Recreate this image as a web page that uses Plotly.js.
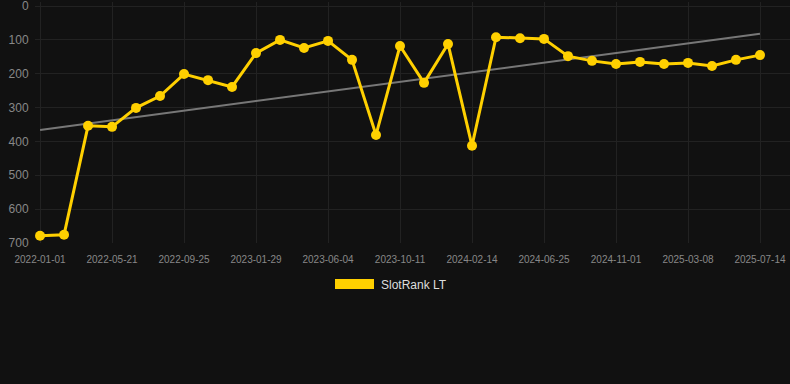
<!DOCTYPE html>
<html>
<head>
<meta charset="utf-8">
<script src="https://cdn.plot.ly/plotly-3.0.1.min.js"></script>
<style>
  html, body { margin: 0; padding: 0; background: #111111; }
  #chart { width: 790px; height: 384px; }
</style>
</head>
<body>
<div id="chart"></div>
<script>
// Dates (category axis, evenly spaced; every third label shown)
const dates = [
  "2022-01-01","2022-02-16","2022-04-04","2022-05-21","2022-06-30","2022-08-12",
  "2022-09-25","2022-11-05","2022-12-17","2023-01-29","2023-03-13","2023-04-23",
  "2023-06-04","2023-07-17","2023-08-29","2023-10-11","2023-11-22","2024-01-03",
  "2024-02-14","2024-03-28","2024-05-11","2024-06-25","2024-08-07","2024-09-19",
  "2024-11-01","2024-12-13","2025-01-24","2025-03-08","2025-04-19","2025-05-31",
  "2025-07-14"
];
// SlotRank LT values
const rankLT = [
  679, 676, 354, 357, 301, 266, 201, 219, 239, 139,
  100, 124, 103, 159, 381, 118, 227, 112, 413, 92,
  95, 97, 148, 162, 171, 165, 171, 168, 177, 159,
  145
];
// Trend line endpoints
const trendDates = ["2022-01-01", "2025-07-14"];
const trendValues = [366, 82];
// Tick labels shown on the x axis
const tickDates = ["2022-01-01","2022-05-21","2022-09-25","2023-01-29","2023-06-04",
  "2023-10-11","2024-02-14","2024-06-25","2024-11-01","2025-03-08","2025-07-14"];
const yTicks = [0, 100, 200, 300, 400, 500, 600, 700];
const yTickText = ["0", "100", "200", "300", "400", "500", "600", "700"];
const seriesName = "SlotRank LT";

const gold = "#FFD000";

const traces = [
  {
    x: trendDates, y: trendValues, type: "scatter", mode: "lines",
    line: { color: "#777777", width: 2 }, showlegend: false, hoverinfo: "skip"
  },
  {
    x: dates, y: rankLT, type: "scatter", mode: "lines+markers", name: seriesName,
    line: { color: gold, width: 3 },
    marker: { color: gold, size: 10 },
    showlegend: false
  }
];

const W = 790, H = 384, L = 35, R = 0, T = 2, B = 141;
const pw = W - L - R, ph = H - T - B;
function px2paperX(px) { return (px - L) / pw; }
function px2paperY(py) { return (H - B - py) / ph; }

const layout = {
  width: W, height: H,
  paper_bgcolor: "#111111",
  plot_bgcolor: "#111111",
  margin: { l: L, r: R, t: T, b: B, pad: 0 },
  font: { family: "Liberation Sans, Arial, sans-serif", color: "#888888" },
  showlegend: false,
  xaxis: {
    type: "category",
    categoryorder: "array", categoryarray: dates,
    range: [-0.21, 31.25],
    tickmode: "array", tickvals: tickDates, ticktext: tickDates,
    tickfont: { size: 10, color: "#888888" },
    gridcolor: "#222222", gridwidth: 1,
    showline: false, zeroline: false, ticks: "", ticklabelstandoff: 9,
    ticklabeloverflow: "allow"
  },
  yaxis: {
    range: [700.3, -12],
    tickmode: "array", tickvals: yTicks, ticktext: yTickText,
    tickfont: { size: 12, color: "#888888" },
    gridcolor: "#222222", gridwidth: 1,
    zeroline: false, showline: false, ticks: "outside", ticklen: 3, tickcolor: "rgba(0,0,0,0)",
    ticklabeloverflow: "allow"
  },
  shapes: [
    {
      type: "rect", xref: "paper", yref: "paper",
      x0: px2paperX(335), x1: px2paperX(374),
      y0: px2paperY(289), y1: px2paperY(279),
      fillcolor: gold, line: { width: 0 }
    }
  ],
  annotations: [
    {
      text: seriesName, xref: "paper", yref: "paper",
      x: px2paperX(379), y: px2paperY(285),
      xanchor: "left", yanchor: "middle", showarrow: false,
      font: { size: 12, color: "#dddddd", family: "Liberation Sans, Arial, sans-serif" }
    }
  ]
};

Plotly.newPlot("chart", traces, layout, { displayModeBar: false, staticPlot: true });
</script>
</body>
</html>
